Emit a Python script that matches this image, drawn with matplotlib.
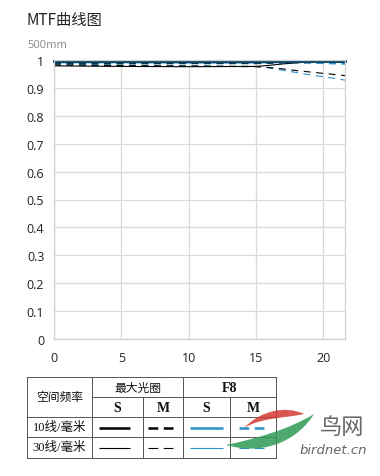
import matplotlib
matplotlib.use("Agg")
import matplotlib.pyplot as plt
from matplotlib.path import Path
from matplotlib.patches import PathPatch
import numpy as np

plt.rcParams['font.family'] = ['Noto Sans CJK SC', 'DejaVu Sans']
plt.rcParams['lines.scale_dashes'] = False

# ---- data ----
x_pts = [0, 5, 10, 15, 16, 17, 18, 19, 20, 21.6]
s10_max = [0.996, 0.996, 0.996, 0.996, 0.996, 0.996, 0.996, 0.996, 0.996, 0.996]
m10_max = [0.99, 0.99, 0.99, 0.99, 0.991, 0.992, 0.993, 0.993, 0.993, 0.993]
s10_f8 = [0.998, 0.998, 0.998, 0.998, 0.998, 0.998, 0.998, 0.998, 0.998, 0.998]
m10_f8 = [0.993, 0.993, 0.993, 0.993, 0.993, 0.993, 0.993, 0.992, 0.99, 0.988]
s30_max = [0.979, 0.977, 0.976, 0.977, 0.981, 0.986, 0.99, 0.993, 0.994, 0.995]
m30_max = [0.982, 0.98, 0.978, 0.976, 0.973, 0.968, 0.962, 0.957, 0.952, 0.944]
s30_f8 = [0.99, 0.99, 0.989, 0.989, 0.99, 0.991, 0.992, 0.992, 0.992, 0.992]
m30_f8 = [0.985, 0.982, 0.98, 0.977, 0.971, 0.963, 0.955, 0.947, 0.94, 0.928]

x_ticks = [0, 5, 10, 15, 20]
y_ticks = [0, 0.1, 0.2, 0.3, 0.4, 0.5, 0.6, 0.7, 0.8, 0.9, 1.0]
y_labels = ['0', '0.1', '0.2', '0.3', '0.4', '0.5', '0.6', '0.7', '0.8', '0.9', '1']

title = 'MTF曲线图'
subtitle = '500mm'
hdr_freq = '空间频率'
hdr_max = '最大光圈'
hdr_f8 = 'F8'
sub_hdr = ['S', 'M', 'S', 'M']
row_labels = ['10线/毫米', '30线/毫米']

BLUE = '#2a93c9'
DASH = (0, (5, 4))

fig = plt.figure(figsize=(3.8, 4.77), dpi=100)
ax = fig.add_axes([54/380, 1-340/477, (345-54)/380, (340-61)/477])

ax.plot(x_pts, m30_f8, color=BLUE, lw=0.8, ls=DASH)
ax.plot(x_pts, m30_max, color='black', lw=0.8, ls=DASH)
ax.plot(x_pts, s30_f8, color=BLUE, lw=0.8)
ax.plot(x_pts, s30_max, color='black', lw=0.8)
ax.plot(x_pts, m10_max, color='black', lw=2.0, ls=DASH, clip_on=False)
ax.plot(x_pts, m10_f8, color=BLUE, lw=2.0, ls=DASH, clip_on=False)
ax.plot(x_pts, s10_max, color='black', lw=2.0, clip_on=False)
ax.plot(x_pts, s10_f8, color='#0d4a6e', lw=2.0, clip_on=False)

ax.set_xlim(0, 21.6)
ax.set_ylim(0, 1.0)
ax.set_xticks(x_ticks)
ax.set_yticks(y_ticks)
ax.set_yticklabels(y_labels)
ax.grid(True, color='#d9d9d9', lw=0.9)
ax.set_axisbelow(True)
for sp in ax.spines.values():
    sp.set_color('#d0d0d0')
    sp.set_linewidth(0.9)
ax.tick_params(length=0, labelsize=9, colors='#222222', pad=7)
for lab in ax.get_xticklabels() + ax.get_yticklabels():
    lab.set_family(['Open Sans', 'DejaVu Sans'])
ax.tick_params(axis='x', pad=9)

# ---- overlay in pixel coordinates ----
ov = fig.add_axes([0, 0, 1, 1], facecolor='none')
ov.set_xlim(0, 380)
ov.set_ylim(477, 0)
ov.axis('off')

ov.text(27, 20, title, fontsize=11, color='#222222', va='center', ha='left')
ov.text(27, 45, subtitle, fontsize=8, color='#888888', va='center', ha='left',
        family=['Open Sans', 'DejaVu Sans'])

# table
lc = '#555555'
tl = 0.7
xs = [27, 92, 143, 183, 230, 276]
for yy in [378, 418, 438, 459]:
    ov.plot([27, 276], [yy, yy], color=lc, lw=tl)
ov.plot([92, 276], [398, 398], color=lc, lw=tl)
for xx in [27, 92, 183, 276]:
    ov.plot([xx, xx], [378, 459], color=lc, lw=tl)
for xx in [143, 230]:
    ov.plot([xx, xx], [398, 459], color=lc, lw=tl)

tfont = ['Liberation Serif', 'Noto Sans CJK SC']
ov.text(59.5, 398, hdr_freq, fontsize=8.5, ha='center', va='center', color='#111111')
ov.text((92+183)/2, 388, hdr_max, fontsize=8.5, ha='center', va='center', color='#111111')
ov.text((183+276)/2, 388.5, hdr_f8, fontsize=10, ha='center', va='center', color='#111111',
        family=tfont, weight='bold')
for i, s in enumerate(sub_hdr):
    ov.text((xs[i+1]+xs[i+2])/2, 408.5, s, fontsize=10, ha='center', va='center',
            color='#111111', family=tfont, weight='bold')
for j, r in enumerate(row_labels):
    ov.text(59.5, 428.5 + 20*j, r, fontsize=9, ha='center', va='center',
            color='#111111', family=tfont)

for j, lw in enumerate([1.8, 0.8]):
    yy = 429 + 20*j
    ov.plot([99, 130], [yy, yy], color='black', lw=lw, solid_capstyle='butt')
    ov.plot([148, 174], [yy, yy], color='black', lw=lw, ls=(0, (7, 4)))
    ov.plot([190, 223], [yy, yy], color=BLUE, lw=lw, solid_capstyle='butt')
    ov.plot([239, 266], [yy, yy], color=BLUE, lw=lw, ls=(0, (7, 4)))

# watermark
def swoosh(pts, color):
    codes = [Path.MOVETO] + [Path.CURVE4] * 6 + [Path.CLOSEPOLY]
    verts = pts + [pts[0]]
    ov.add_patch(PathPatch(Path(verts, codes), facecolor=color, edgecolor='none',
                           alpha=0.85, zorder=5))

swoosh([(244, 429), (260, 412), (285, 406), (304, 415),
        (288, 419), (262, 418), (244, 429)], '#d43a33')
swoosh([(226, 446), (255, 440), (290, 430), (314, 415),
        (300, 438), (268, 458), (226, 446)], '#2e9a55')
ov.text(342, 427.5, '鸟网', fontsize=16, color='#666666', ha='center', va='center', zorder=6)
ov.text(333, 451, 'birdnet.cn', fontsize=9.5, color='#666666', ha='center', va='center',
        style='italic', family=['DejaVu Sans'], zorder=6)

fig.savefig('out.png', dpi=100)
